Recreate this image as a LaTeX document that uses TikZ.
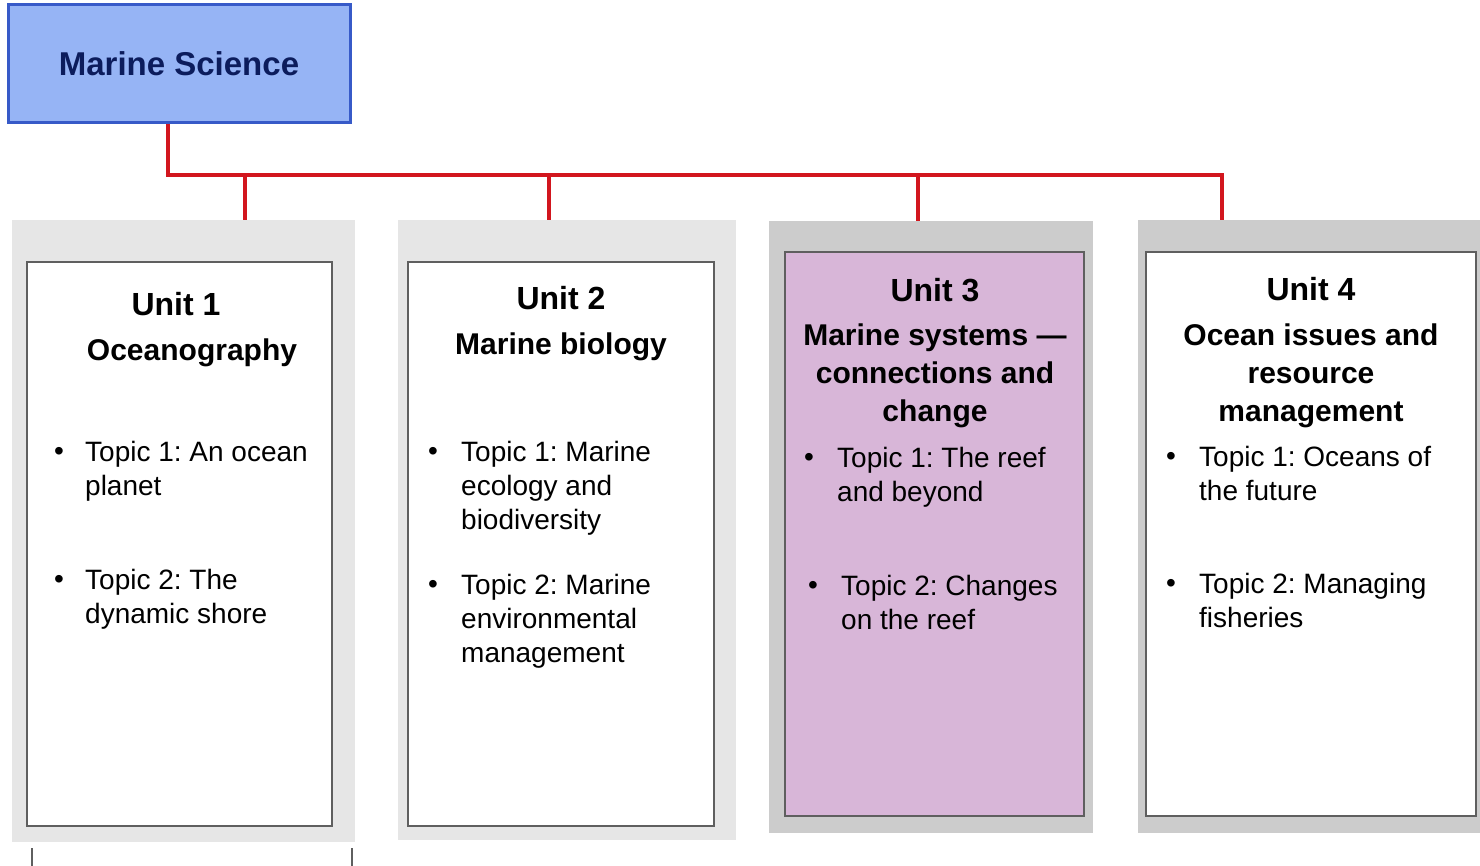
\documentclass[tikz,border=0pt]{standalone}
\usepackage{fontspec}
\setmainfont{Liberation Sans}
\usetikzlibrary{positioning}
\frenchspacing
\definecolor{titlefill}{RGB}{150,180,245}
\definecolor{titleline}{RGB}{55,90,200}
\definecolor{titletext}{RGB}{12,28,92}
\definecolor{linkred}{RGB}{210,22,30}
\definecolor{paleframe}{RGB}{230,230,230}
\definecolor{darkframe}{RGB}{204,204,204}
\definecolor{unitpink}{RGB}{216,182,216}
\definecolor{boxline}{RGB}{95,95,95}
\tikzset{
  link/.style={linkred, line width=3.5pt},
  frame/.style={inner sep=0pt, draw=none},
  unitbox/.style={draw=boxline, line width=2pt, inner sep=0pt},
  head/.style={font=\fontsize{32}{38}\selectfont\bfseries, inner sep=0pt, anchor=base},
  sub/.style={font=\fontsize{30}{38}\selectfont\bfseries, inner sep=0pt, align=center},
  topic/.style={font=\fontsize{28}{34}\selectfont, inner sep=0pt, align=left, anchor=north west},
  dot/.style={font=\fontsize{28}{34}\selectfont, inner sep=0pt, anchor=base},
}
\begin{document}
\begin{tikzpicture}[x=1pt,y=-1pt]
        \useasboundingbox (0,0) rectangle (1480,866);
        % title
        \node[draw=titleline, line width=3pt, fill=titlefill, minimum width=342, minimum height=118,
              font=\fontsize{33}{40}\selectfont\bfseries, text=titletext] (title) at (179,64) {Marine Science};

        % grey frames
        \node[frame, fill=paleframe, minimum width=343, minimum height=622] (g1) at (183.5,531) {};
        \node[frame, fill=paleframe, minimum width=338, minimum height=620] (g2) at (567,530) {};
        \node[frame, fill=darkframe, minimum width=324, minimum height=612] (g3) at (931,527) {};
        \node[frame, fill=darkframe, minimum width=342, minimum height=613] (g4) at (1309,526.5) {};

        % unit boxes
        \node[unitbox, fill=white, minimum width=305, minimum height=564] (u1) at (179.5,544) {};
        \node[unitbox, fill=white, minimum width=306, minimum height=564] (u2) at (561,544) {};
        \node[unitbox, fill=unitpink, minimum width=299, minimum height=564] (u3) at (934.5,534) {};
        \node[unitbox, fill=white, minimum width=330, minimum height=564] (u4) at (1311,534) {};

        % red links
        \coordinate (bus) at (168,175);
        \coordinate (d1) at (245,175);
        \coordinate (d2) at (549,175);
        \coordinate (d3) at (918,175);
        \coordinate (d4) at (1222,175);
        \draw[link] (title.south -| bus) -- (bus) -- (d4) -- (d4 |- g4.north);
        \draw[link] (d1) -- (d1 |- g1.north);
        \draw[link] (d2) -- (d2 |- g2.north);
        \draw[link] (d3) -- (d3 |- g3.north);

        % unit 1
        \node[head] (h1) at (176,315.5) {Unit 1};
        \node[sub, anchor=base] (s1) at (192,360) {Oceanography};
        \node[dot] (b11) at (59,460.5) {•};
        \node[topic] (t11) at (85,441) {Topic 1: An ocean\\planet};
        \node[dot] (b12) at (59,588.5) {•};
        \node[topic] (t12) at (85,569) {Topic 2: The\\dynamic shore};

        % unit 2
        \node[head] (h2) at (561,309.5) {Unit 2};
        \node[sub, anchor=base] (s2) at (561,354.5) {Marine biology};
        \node[dot] (b21) at (433,460.5) {•};
        \node[topic] (t21) at (461,441) {Topic 1: Marine\\ecology and\\biodiversity};
        \node[dot] (b22) at (433,593.5) {•};
        \node[topic] (t22) at (461,574) {Topic 2: Marine\\environmental\\management};

        % unit 3
        \node[head] (h3) at (935,301.5) {Unit 3};
        \node[sub, anchor=north] (s3) at (935,324) {Marine systems —\\connections and\\change};
        \node[dot] (b31) at (809,466.5) {•};
        \node[topic] (t31) at (837,447) {Topic 1: The reef\\and beyond};
        \node[dot] (b32) at (813,594.5) {•};
        \node[topic] (t32) at (841,575) {Topic 2: Changes\\on the reef};

        % unit 4
        \node[head] (h4) at (1311,300.5) {Unit 4};
        \node[sub, anchor=north] (s4) at (1311,324) {Ocean issues and\\resource\\management};
        \node[dot] (b41) at (1171,465.5) {•};
        \node[topic] (t41) at (1199,446) {Topic 1: Oceans of\\the future};
        \node[dot] (b42) at (1171,592.5) {•};
        \node[topic] (t42) at (1199,573) {Topic 2: Managing\\fisheries};

        % edge of the next row
        \draw[boxline, line width=2pt] (32,848) -- (32,866);
        \draw[boxline, line width=2pt] (352,848) -- (352,866);
\end{tikzpicture}
\end{document}
